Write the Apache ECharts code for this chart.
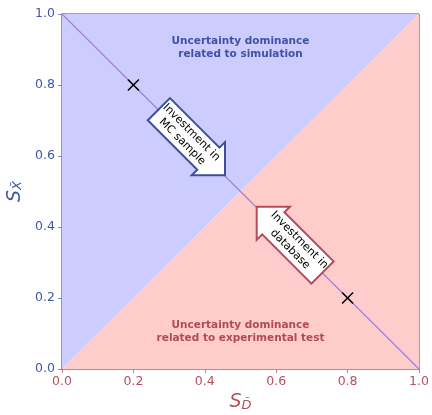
<!DOCTYPE html>
<html>
<head>
<meta charset="utf-8">
<script src="https://cdn.jsdelivr.net/npm/echarts@6/dist/echarts.min.js"></script>
<style>html,body{margin:0;padding:0;background:#fff;}#chart{width:432px;height:415px;}</style>
</head>
<body>
<div id="chart"></div>
<script>
// ---- data ----
const tickValues = [0, 0.2, 0.4, 0.6, 0.8, 1.0];
const simRegion = [[0, 0], [0, 1], [1, 1]];
const testRegion = [[0, 0], [1, 0], [1, 1]];
const diagonal = [[0, 1], [1, 0]];
const markerPoints = [[0.2, 0.8], [0.8, 0.2]];
const arrowTails = [[0.2714, 0.7318], [0.7297, 0.2718]];
const arrowTips = [[0.4566, 0.5456], [0.5454, 0.4572]];
const arrowLabels = ['Investment in\nMC sample', 'Investment in\ndatabase'];
const regionLabelPos = [[0.5, 0.906], [0.5, 0.104]];
const regionLabels = ['Uncertainty dominance\nrelated to simulation', 'Uncertainty dominance\nrelated to experimental test'];

// ---- styles ----
const FONT = 'DejaVu Sans';
const BLUE_TXT = '#4256a6';
const RED_TXT = '#b5505e';
const regionFill = ['#ccccff', '#ffcccc'];
const arrowStroke = ['#3b4f9e', '#b24c5c'];
const regionTextColor = ['#4052a2', '#b04a5a'];

const chart = echarts.init(document.getElementById('chart'), null, {renderer: 'canvas'});

const regions = [simRegion, testRegion];

const option = {
  animation: false,
  backgroundColor: '#ffffff',
  grid: {left: 62, right: 13, top: 14, bottom: 46, containLabel: false, outerBoundsMode: 'none',
    show: true, borderColor: '#444', borderWidth: 1, backgroundColor: 'transparent'},
  xAxis: {
    type: 'value', min: 0, max: 1, interval: 0.2,
    splitLine: {show: false},
    axisLine: {show: true, onZero: false, lineStyle: {color: '#cf7a88', width: 1.5}},
    axisTick: {show: true, length: 4, lineStyle: {color: '#cf7a88'}},
    axisLabel: {color: RED_TXT, fontFamily: FONT, fontSize: 12.5, margin: 6, formatter: v => v.toFixed(1)},
    name: '{s|S}{sub|D̃}',
    nameLocation: 'middle', nameGap: 20,
    nameTextStyle: {
      rich: {
        s: {fontFamily: FONT, fontStyle: 'italic', fontSize: 19, color: RED_TXT, lineHeight: 22, verticalAlign: 'bottom'},
        sub: {fontFamily: FONT, fontStyle: 'italic', fontSize: 13, color: RED_TXT, lineHeight: 14, verticalAlign: 'bottom'}
      }
    }
  },
  yAxis: {
    type: 'value', min: 0, max: 1, interval: 0.2,
    splitLine: {show: false},
    axisLine: {show: true, onZero: false, lineStyle: {color: '#8a8ede', width: 1.5}},
    axisTick: {show: true, length: 4, lineStyle: {color: '#7f86b8'}},
    axisLabel: {color: BLUE_TXT, fontFamily: FONT, fontSize: 12.5, margin: 7, formatter: v => v.toFixed(1)},
    name: '{s|S}{sub|X̃}',
    nameLocation: 'middle', nameGap: 33, nameRotate: 90,
    nameTextStyle: {
      rich: {
        s: {fontFamily: FONT, fontStyle: 'italic', fontSize: 19, color: BLUE_TXT, lineHeight: 22, verticalAlign: 'bottom'},
        sub: {fontFamily: FONT, fontStyle: 'italic', fontSize: 13, color: BLUE_TXT, lineHeight: 14, verticalAlign: 'bottom'}
      }
    }
  },
  series: [
    {
      type: 'custom', z: 1, silent: true,
      data: regions.map(r => r[0]),
      renderItem: function (params, api) {
        const pts = regions[params.dataIndex].map(p => api.coord(p));
        return {type: 'polygon', shape: {points: pts}, style: {fill: regionFill[params.dataIndex], stroke: null}};
      }
    },
    {
      type: 'line', z: 3, data: diagonal, symbol: 'none', silent: true,
      lineStyle: {color: '#9a80d8', width: 1.1}
    },
    {
      type: 'custom', z: 4, silent: true,
      data: markerPoints,
      renderItem: function (params, api) {
        const c = api.coord([api.value(0), api.value(1)]);
        const h = 5.5;
        const st = {stroke: '#000', lineWidth: 1.5};
        return {type: 'group', children: [
          {type: 'line', shape: {x1: c[0] - h, y1: c[1] - h, x2: c[0] + h, y2: c[1] + h}, style: st},
          {type: 'line', shape: {x1: c[0] - h, y1: c[1] + h, x2: c[0] + h, y2: c[1] - h}, style: st}
        ]};
      }
    },
    {
      type: 'custom', z: 5, silent: true,
      data: arrowTails,
      renderItem: function (params, api) {
        const i = params.dataIndex;
        const t = api.coord(arrowTails[i]);
        const p = api.coord(arrowTips[i]);
        const dx = p[0] - t[0], dy = p[1] - t[1];
        const L = Math.hypot(dx, dy);
        const ux = dx / L, uy = dy / L, nx = -uy, ny = ux;
        const hl = 23.5, bw = 15.7, hw = 23.5;
        const b = [p[0] - ux * hl, p[1] - uy * hl];
        const pts = [
          [t[0] + nx * bw, t[1] + ny * bw],
          [b[0] + nx * bw, b[1] + ny * bw],
          [b[0] + nx * hw, b[1] + ny * hw],
          [p[0], p[1]],
          [b[0] - nx * hw, b[1] - ny * hw],
          [b[0] - nx * bw, b[1] - ny * bw],
          [t[0] - nx * bw, t[1] - ny * bw]
        ];
        let ang = Math.atan2(dy, dx);
        if (dx < 0) ang += Math.PI;
        const shift = 4.5;
        const cx = (t[0] + b[0]) / 2 + ux * shift, cy = (t[1] + b[1]) / 2 + uy * shift;
        return {type: 'group', children: [
          {type: 'polygon', shape: {points: pts}, style: {fill: '#ffffff', stroke: arrowStroke[i], lineWidth: 2, lineJoin: 'miter'}},
          {type: 'text', x: cx, y: cy, rotation: -ang,
            style: {text: arrowLabels[i], fill: '#000', fontFamily: FONT, fontSize: 11, lineHeight: 13, align: 'center', verticalAlign: 'middle'}}
        ]};
      }
    },
    {
      type: 'custom', z: 6, silent: true,
      data: regionLabelPos,
      renderItem: function (params, api) {
        const i = params.dataIndex;
        const c = api.coord(regionLabelPos[i]);
        return {type: 'text', x: c[0], y: c[1],
          style: {text: regionLabels[i], fill: regionTextColor[i], fontFamily: FONT, fontWeight: 'bold', fontSize: 10.5, lineHeight: 12.8, align: 'center', verticalAlign: 'middle'}};
      }
    }
  ]
};
chart.setOption(option);
</script>
</body>
</html>
